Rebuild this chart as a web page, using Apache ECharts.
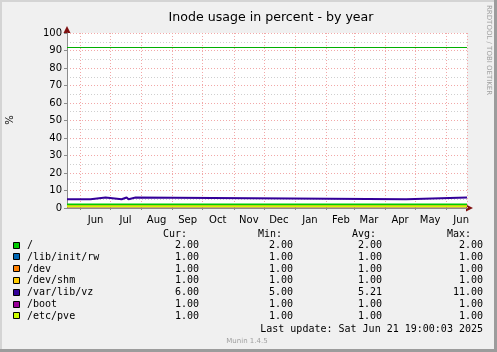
<!DOCTYPE html>
<html>
<head>
<meta charset="utf-8">
<script src="https://cdn.jsdelivr.net/npm/echarts@6/dist/echarts.min.js"></script>
<style>
html, body { margin: 0; padding: 0; background: #f0f0f0; }
#inodes { width: 497px; height: 352px; }
</style>
</head>
<body>
<div id="inodes"></div>
<script>
// time range of the year graph
const startTime = '2024-05-18 12:00';
const endTime = '2025-06-21 19:00';
const monthNames = ['Jan', 'Feb', 'Mar', 'Apr', 'May', 'Jun', 'Jul', 'Aug', 'Sep', 'Oct', 'Nov', 'Dec'];

const names = ['/', '/lib/init/rw', '/dev', '/dev/shm', '/var/lib/vz', '/boot', '/etc/pve'];
const colors = ['#00cc00', '#0066b3', '#ff8000', '#ffcc00', '#330099', '#990099', '#ccff00'];
// flat series (null = series given below)
const flatValues = [2, 1, 1, 1, null, 1, 1];

// /var/lib/vz changes
const vzDates = ['2024-05-18 12:00', '2024-06-11', '2024-06-26', '2024-07-12', '2024-07-17', '2024-07-19', '2024-07-26', '2025-04-22', '2025-06-21 19:00'];
const vzValues = [5, 6, 5, 6, 5, 6, 5, 6, 6];

const warningLevel = 92;

const curVals = ['2.00', '1.00', '1.00', '1.00', '6.00', '1.00', '1.00'];
const minVals = ['2.00', '1.00', '1.00', '1.00', '5.00', '1.00', '1.00'];
const avgVals = ['2.00', '1.00', '1.00', '1.00', '5.21', '1.00', '1.00'];
const maxVals = ['2.00', '1.00', '1.00', '1.00', '11.00', '1.00', '1.00'];
const lastUpdate = 'Last update: Sat Jun 21 19:00:03 2025';

const myChart = echarts.init(document.getElementById('inodes'));
const mono = 'DejaVu Sans Mono';
const sans = 'DejaVu Sans';

// steps: hold the old value up to each change, then jump
function stepped(dates, values) {
  let out = [];
  dates.forEach((d, k) => {
    if (k > 0) out.push([d, values[k - 1]]);
    out.push([d, values[k]]);
  });
  return out;
}

let series = names.map((name, i) => {
  let data;
  if (flatValues[i] === null) {
    data = stepped(vzDates, vzValues);
  } else {
    data = [[startTime, flatValues[i]], [endTime, flatValues[i]]];
  }
  let s = {
    name: name,
    type: 'line',
    symbol: 'none',
    silent: true,
    sampling: null,
    data: data,
    lineStyle: { color: colors[i], width: 2 },
    itemStyle: { color: colors[i] }
  };
  if (i === 0) {
    s.markLine = {
      silent: true,
      symbol: 'none',
      label: { show: false },
      lineStyle: { color: '#00b000', width: 1, type: 'solid', opacity: 1 },
      data: [{ yAxis: warningLevel, lineStyle: { color: '#00b000', width: 1, type: 'solid' } }]
    };
  }
  return s;
});

// frame, arrows and legend table
let graphic = [
  { type: 'rect', shape: { x: 0, y: 0, width: 497, height: 2 }, style: { fill: '#d4d4d4' }, silent: true },
  { type: 'rect', shape: { x: 0, y: 0, width: 2, height: 352 }, style: { fill: '#d4d4d4' }, silent: true },
  { type: 'rect', shape: { x: 494, y: 0, width: 3, height: 352 }, style: { fill: '#9c9c9c' }, silent: true },
  { type: 'rect', shape: { x: 0, y: 349, width: 497, height: 3 }, style: { fill: '#9c9c9c' }, silent: true },
  { type: 'polygon', shape: { points: [[466, 204.5], [473, 208], [466, 211.5]] }, style: { fill: '#7f1010' }, silent: true },
  { type: 'polygon', shape: { points: [[63.5, 33], [67, 26], [70.5, 33]] }, style: { fill: '#7f1010' }, silent: true },
  { type: 'text', x: 10, y: 120, rotation: Math.PI / 2, style: { text: '%', font: '10px ' + sans, fill: '#000', align: 'center', verticalAlign: 'middle' } },
  { type: 'text', x: 489, y: 5, rotation: -Math.PI / 2, style: { text: 'RRDTOOL / TOBI OETIKER', font: '7px ' + sans, fill: '#a0a0a0', align: 'left', verticalAlign: 'middle' } },
  { type: 'text', x: 247, y: 341, style: { text: 'Munin 1.4.5', font: '7px ' + sans, fill: '#a0a0a0', align: 'center', verticalAlign: 'middle' } },
  { type: 'text', x: 163, y: 234, style: { text: 'Cur:', font: '10px ' + mono, fill: '#000', verticalAlign: 'middle' } },
  { type: 'text', x: 258, y: 234, style: { text: 'Min:', font: '10px ' + mono, fill: '#000', verticalAlign: 'middle' } },
  { type: 'text', x: 352, y: 234, style: { text: 'Avg:', font: '10px ' + mono, fill: '#000', verticalAlign: 'middle' } },
  { type: 'text', x: 447, y: 234, style: { text: 'Max:', font: '10px ' + mono, fill: '#000', verticalAlign: 'middle' } },
  { type: 'text', x: 483, y: 329, style: { text: lastUpdate, font: '10px ' + mono, fill: '#000', align: 'right', verticalAlign: 'middle' } }
];
names.forEach((name, i) => {
  let y = 245.5 + i * 11.8;
  graphic.push({ type: 'rect', shape: { x: 13.5, y: Math.round(y) - 3.5, width: 6, height: 6 }, style: { fill: colors[i], stroke: '#000', lineWidth: 1 }, silent: true });
  graphic.push({ type: 'text', x: 27, y: y, style: { text: name, font: '10px ' + mono, fill: '#000', verticalAlign: 'middle' } });
  graphic.push({ type: 'text', x: 199, y: y, style: { text: curVals[i], font: '10px ' + mono, fill: '#000', align: 'right', verticalAlign: 'middle' } });
  graphic.push({ type: 'text', x: 293, y: y, style: { text: minVals[i], font: '10px ' + mono, fill: '#000', align: 'right', verticalAlign: 'middle' } });
  graphic.push({ type: 'text', x: 358, y: y, style: { text: avgVals[i], font: '10px ' + mono, fill: '#000', align: 'left', verticalAlign: 'middle' } });
  graphic.push({ type: 'text', x: 483, y: y, style: { text: maxVals[i], font: '10px ' + mono, fill: '#000', align: 'right', verticalAlign: 'middle' } });
});

let option = {
  backgroundColor: '#f0f0f0',
  animation: false,
  title: {
    text: 'Inode usage in percent - by year',
    left: 266,
    top: 6,
    textAlign: 'center',
    textStyle: { fontFamily: sans, fontSize: 12.6, fontWeight: 'normal', color: '#000' }
  },
  grid: { left: 67, top: 33, width: 400, height: 175, backgroundColor: '#fff', show: true, borderWidth: 0 },
  xAxis: {
    type: 'time',
    min: startTime,
    max: endTime,
    minInterval: 28 * 86400000,
    maxInterval: 31 * 86400000,
    axisLine: { lineStyle: { color: '#8c8c8c', width: 1 } },
    axisTick: { show: true, length: 2, lineStyle: { color: '#8c8c8c' } },
    axisLabel: {
      fontFamily: sans,
      fontSize: 10,
      color: '#000',
      margin: 7,
      padding: [0, 0, 0, 30],
      hideOverlap: false,
      formatter: function(val) {
        let d = new Date(val);
        if (d.getDate() !== 1 || d.getHours() !== 0) return '';
        return monthNames[d.getMonth()];
      }
    },
    splitLine: { show: true, lineStyle: { color: '#f2a8a8', type: [1, 2], width: 1 } }
  },
  yAxis: {
    type: 'value',
    min: 0,
    max: 100,
    interval: 10,
    axisLine: { show: true, lineStyle: { color: '#8c8c8c', width: 1 } },
    axisTick: { show: true, length: 3, lineStyle: { color: '#8c8c8c' } },
    axisLabel: { fontFamily: sans, fontSize: 10, color: '#000', margin: 5 },
    splitLine: { show: true, lineStyle: { color: '#f2a8a8', type: [1, 2], width: 1 } },
    minorTick: { show: false, splitNumber: 2 },
    minorSplitLine: { show: true, lineStyle: { color: '#cfcfcf', type: [1, 2], width: 1 } }
  },
  series: series,
  graphic: graphic
};

myChart.setOption(option, true);
</script>
</body>
</html>
